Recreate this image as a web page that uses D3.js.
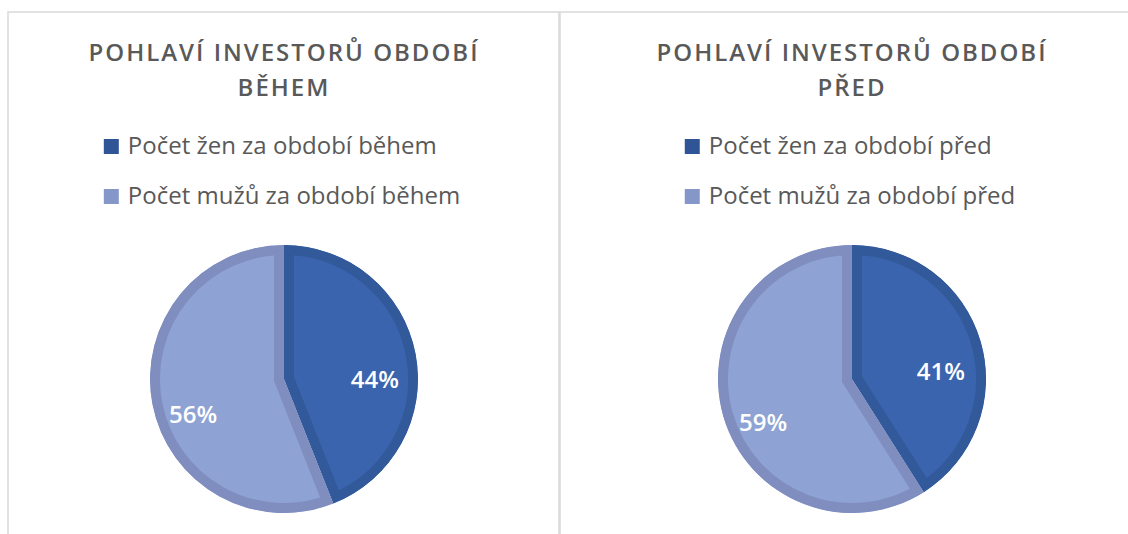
<!DOCTYPE html>
<html>
  <head>
    <meta charset="utf-8">
    <title>Pohlaví investorů</title>
    <script src="https://cdn.jsdelivr.net/npm/d3@7/dist/d3.min.js"></script>
    <style>
      body { margin: 0; background: #fff; }
      svg text { font-family: "Open Sans", "DejaVu Sans", sans-serif; }
    </style>
  </head>
  <body>
  <script>

    // Chart data
    var titleLines = [
      ["POHLAVÍ INVESTORŮ OBDOBÍ", "BĚHEM"],
      ["POHLAVÍ INVESTORŮ OBDOBÍ", "PŘED"]
    ];
    var legendLabels = [
      ["Počet žen za období během", "Počet mužů za období během"],
      ["Počet žen za období před", "Počet mužů za období před"]
    ];
    var shares = [
      [44, 56],
      [41, 59]
    ];

    var fills   = ["#3A64AD", "#8EA2D3"];
    var strokes = ["#325A9B", "#7F8EBF"];
    var swatch  = ["#2F5597", "#8497C8"];

    var width = 1128, height = 534;

    var svg = d3.select("body").append("svg")
                .attr("width", width)
                .attr("height", height);

    // panel frames
    var panels = [
      { x: 8, w: 551, cx: 284 },
      { x: 560, w: 580, cx: 852 }
    ];

    svg.selectAll("rect.frame")
       .data(panels)
       .enter()
       .append("rect")
       .attr("class", "frame")
       .attr("x", function (d) { return d.x; })
       .attr("y", 12)
       .attr("width", function (d) { return d.w; })
       .attr("height", 600)
       .style("fill", "none")
       .style("stroke", "#d9d9d9")
       .style("stroke-width", 1.5);

    var radius = 134;
    var cy = 379;

    var pie = d3.pie().sort(null).value(function (d) { return d; });
    var arc = d3.arc().innerRadius(0).outerRadius(radius);
    var labelArc = d3.arc().innerRadius(radius * 0.69).outerRadius(radius * 0.69);

    panels.forEach(function (p, i) {
      var g = svg.append("g");

      // title
      g.selectAll("text.title")
       .data(titleLines[i])
       .enter()
       .append("text")
       .attr("class", "title")
       .attr("x", p.cx)
       .attr("y", function (d, j) { return 61 + j * 35; })
       .attr("text-anchor", "middle")
       .style("font-size", "24px")
       .style("font-weight", "600")
       .style("letter-spacing", "2px")
       .style("fill", "#595959")
       .text(function (d) { return d; });

      // legend
      var leg = g.append("g");
      var items = leg.selectAll("g")
                     .data(legendLabels[i])
                     .enter()
                     .append("g")
                     .attr("transform", function (d, j) { return "translate(0," + (154 + j * 50) + ")"; });
      items.append("rect")
           .attr("x", 0).attr("y", -15)
           .attr("width", 15).attr("height", 15)
           .style("fill", function (d, j) { return swatch[j]; });
      items.append("text")
           .attr("x", 24)
           .attr("y", 0)
           .style("font-size", "24px")
           .style("fill", "#595959")
           .text(function (d) { return d; });
      var bb = leg.node().getBBox();
      leg.attr("transform", "translate(" + (p.cx - bb.width / 2 - 2) + ",0)");

      // pie
      var pg = g.append("g").attr("transform", "translate(" + p.cx + "," + cy + ")");
      var slices = pie(shares[i]);

      pg.append("defs").selectAll("clipPath")
        .data(slices)
        .enter()
        .append("clipPath")
        .attr("id", function (d, j) { return "clip" + i + "_" + j; })
        .append("path")
        .attr("d", arc);

      pg.selectAll("path.slice")
        .data(slices)
        .enter()
        .append("path")
        .attr("class", "slice")
        .attr("d", arc)
        .attr("clip-path", function (d, j) { return "url(#clip" + i + "_" + j + ")"; })
        .style("fill", function (d, j) { return fills[j]; })
        .style("stroke", function (d, j) { return strokes[j]; })
        .style("stroke-width", 20)
        .style("stroke-linejoin", "miter");

      // data labels sit a little below the slice centroid
      pg.selectAll("text.lbl")
        .data(slices)
        .enter()
        .append("text")
        .attr("class", "lbl")
        .attr("transform", function (d) { return "translate(" + labelArc.centroid(d) + ")"; })
        .attr("text-anchor", "middle")
        .attr("dy", "1.1em")
        .style("font-size", "24px")
        .style("font-weight", "600")
        .style("fill", "#ffffff")
        .text(function (d) { return d.data + "%"; });
    });

  </script>
  </body>
</html>
